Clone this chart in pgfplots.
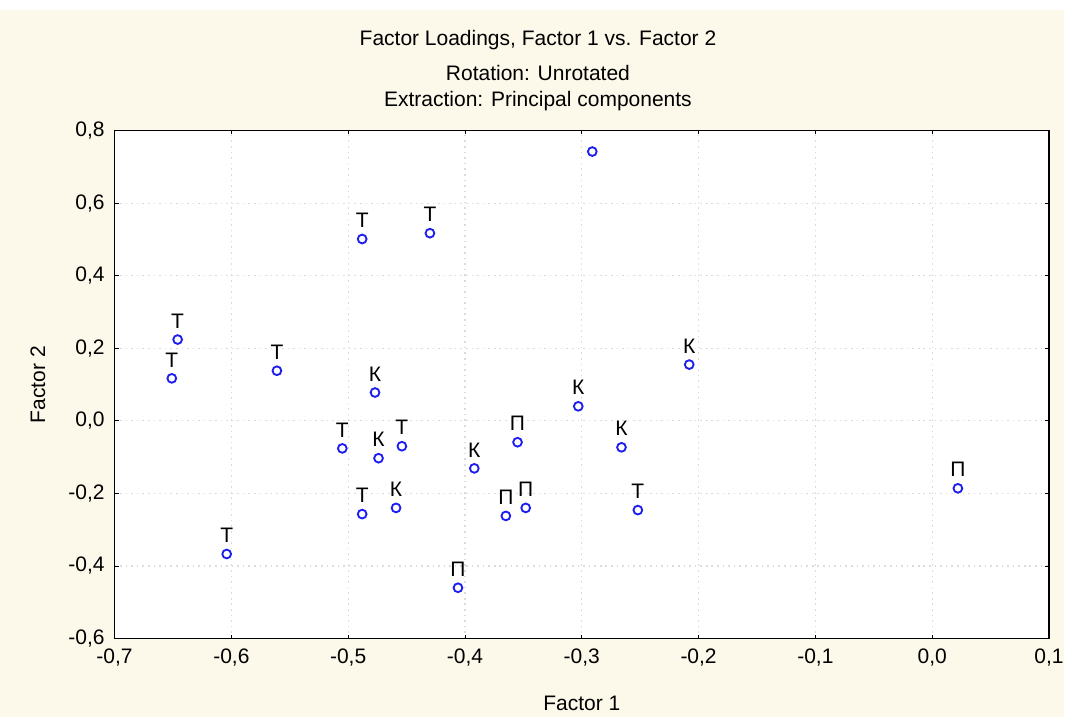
\documentclass[border=0pt]{standalone}
\usepackage{fontspec}
\setmainfont{Liberation Sans}
\usepackage{pgfplots}
\pgfplotsset{compat=1.18}
\usepackage{pgfplotstable}
\definecolor{bgcream}{RGB}{252,248,234}
\definecolor{ptblue}{RGB}{30,30,240}

\newcommand{\chartfont}{\fontsize{15.8}{19}\selectfont}

% factor loadings (Factor 1, Factor 2, label)
\pgfplotstableread{
x      y      lab
-0.646  0.224 Т
-0.651  0.117 Т
-0.604 -0.367 Т
-0.561  0.138 Т
-0.505 -0.076 Т
-0.488  0.501 Т
-0.488 -0.257 Т
-0.477  0.078 К
-0.474 -0.103 К
-0.459 -0.240 К
-0.454 -0.070 Т
-0.430  0.517 Т
-0.406 -0.460 П
-0.392 -0.131 К
-0.365 -0.262 П
-0.355 -0.059 П
-0.348 -0.240 П
-0.303  0.040 К
-0.266 -0.073 К
-0.252 -0.246 Т
-0.208  0.155 К
 0.022 -0.186 П
}\loadings

\begin{document}
\begin{tikzpicture}
% page background
\fill[white] (-86.25pt,-59.25pt) rectangle (714.75pt,480.75pt);
\fill[bgcream] (-86.25pt,-59.25pt) rectangle (714.75pt,473.25pt);

\begin{axis}[
    scale only axis,
    width=703.5pt, height=382.5pt,
    xmin=-0.7, xmax=0.1,
    ymin=-0.6, ymax=0.8,
    xtick={-0.7,-0.6,...,0.1},
    ytick={-0.6,-0.4,...,0.8},
    axis background/.style={fill=white},
    axis line style={line width=1.2pt},
    tick align=inside,
    major tick length=3pt,
    tick style={black, line width=0.6pt},
    grid=major,
    major grid style={gray!28, line width=0.8pt, dash pattern=on 1.2pt off 3pt},
    ticklabel style={font=\chartfont},
    /pgf/number format/.cd, fixed, fixed zerofill, precision=1, use comma, assume math mode=true,
    /pgfplots/.cd,
    xticklabel style={yshift=-4pt},
    yticklabel style={xshift=-4pt},
    xlabel={Factor 1},
    ylabel={Factor 2},
    label style={font=\chartfont},
    xlabel style={at={(axis description cs:0.5,-0.1275)}, anchor=center},
    ylabel style={at={(axis description cs:-0.082,0.5)}, anchor=center},
    clip=false,
]
\addplot[
    only marks,
    mark=o,
    mark size=3.3pt,
    mark options={ptblue, line width=1.4pt},
    nodes near coords,
    point meta=explicit symbolic,
    every node near coord/.style={anchor=south, font=\chartfont, black, yshift=4.5pt},
] table[x=x, y=y, meta=lab] {\loadings};
% point whose label is hidden behind the top frame
\addplot[
    only marks,
    mark=o,
    mark size=3.3pt,
    mark options={ptblue, line width=1.4pt},
] coordinates {(-0.291,0.742)};
\end{axis}

\node[font=\chartfont] at (318.75pt,450.75pt) {Factor Loadings, Factor 1 vs. Factor 2};
\node[font=\chartfont] at (318.75pt,426pt) {Rotation: Unrotated};
\node[font=\chartfont] at (318.75pt,405pt) {Extraction: Principal components};
\end{tikzpicture}
\end{document}
